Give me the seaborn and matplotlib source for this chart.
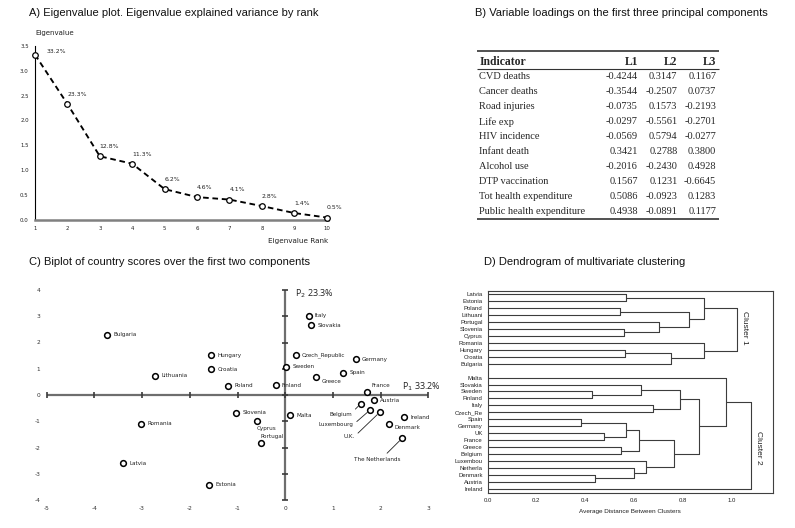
"""
PCA and clustering summary figure: eigenvalues, loadings, biplot, dendrogram.
"""

import pandas as pd
import seaborn as sns
import matplotlib.pyplot as plt


# A) eigenvalue plot
RANKS = [1, 2, 3, 4, 5, 6, 7, 8, 9, 10]
EIGENVALUES = [3.32, 2.33, 1.28, 1.13, 0.62, 0.46, 0.41, 0.28, 0.14, 0.05]
VARIANCE_LABELS = ["33.2%", "23.3%", "12.8%", "11.3%", "6.2%",
                   "4.6%", "4.1%", "2.8%", "1.4%", "0.5%"]

# B) loadings table
INDICATORS = ["CVD deaths", "Cancer deaths", "Road injuries", "Life exp",
              "HIV incidence", "Infant death", "Alcohol use",
              "DTP vaccination", "Tot health expenditure",
              "Public health expenditure"]
L1 = [-0.4244, -0.3544, -0.0735, -0.0297, -0.0569,
      0.3421, -0.2016, 0.1567, 0.5086, 0.4938]
L2 = [0.3147, -0.2507, 0.1573, -0.5561, 0.5794,
      0.2788, -0.2430, 0.1231, -0.0923, -0.0891]
L3 = [0.1167, 0.0737, -0.2193, -0.2701, -0.0277,
      0.3800, 0.4928, -0.6645, 0.1283, 0.1177]

# C) biplot scores
COUNTRIES = ["Bulgaria", "Italy", "Slovakia", "Hungary", "Croatia",
             "Lithuania", "Poland", "Czech_Republic", "Germany", "Sweden",
             "Spain", "Greece", "Finland", "France", "Austria", "Belgium",
             "Luxembourg", "U.K.", "Ireland", "Denmark", "The Netherlands",
             "Slovenia", "Malta", "Cyprus", "Portugal", "Romania", "Latvia",
             "Estonia"]
SCORE_P1 = [-3.74, 0.49, 0.54, -1.55, -1.55, -2.73, -1.20, 0.22, 1.48, 0.02,
            1.21, 0.64, -0.20, 1.71, 1.86, 1.58, 1.78, 1.98, 2.50, 2.17,
            2.45, -1.03, 0.10, -0.59, -0.51, -3.02, -3.40, -1.60]
SCORE_P2 = [2.29, 3.01, 2.65, 1.52, 0.98, 0.74, 0.36, 1.52, 1.36, 1.07,
            0.85, 0.70, 0.38, 0.13, -0.20, -0.34, -0.57, -0.66, -0.85, -1.09,
            -1.65, -0.67, -0.77, -1.00, -1.84, -1.09, -2.60, -3.42]

# D) dendrogram
LEAVES_1 = ["Latvia", "Estonia", "Poland", "Lithuani", "Portugal",
            "Slovenia", "Cyprus", "Romania", "Hungary", "Croatia", "Bulgaria"]
LEAVES_2 = ["Malta", "Slovakia", "Sweden", "Finland", "Italy", "Czech_Re",
            "Spain", "Germany", "UK", "France", "Greece", "Belgium",
            "Luxembou", "Netherla", "Denmark", "Austria", "Ireland"]
# (child, child, height); an int child refers to an earlier merge
MERGES = [
    ("Latvia", "Estonia", 0.566),
    ("Poland", "Lithuani", 0.543),
    ("Slovenia", "Cyprus", 0.560),
    ("Portugal", 2, 0.703),
    (1, 3, 0.825),
    (0, 4, 0.887),
    ("Hungary", "Croatia", 0.563),
    (6, "Bulgaria", 0.749),
    ("Romania", 7, 0.887),
    (5, 8, 1.019),
    ("Sweden", "Finland", 0.429),
    ("Slovakia", 10, 0.628),
    ("Italy", "Czech_Re", 0.678),
    (11, 12, 0.789),
    ("Spain", "Germany", 0.382),
    ("UK", "France", 0.477),
    (14, 15, 0.567),
    ("Greece", "Belgium", 0.545),
    (16, 17, 0.621),
    ("Denmark", "Austria", 0.441),
    ("Netherla", 19, 0.600),
    ("Luxembou", 20, 0.648),
    (18, 21, 0.763),
    (13, 22, 0.866),
    ("Malta", 23, 0.975),
    (24, "Ireland", 1.080),
]
CLUSTER_NAMES = ["Cluster 1", "Cluster 2"]

W, H = 795, 528
SANS = ["Liberation Sans", "DejaVu Sans"]
VERDANA = ["DejaVu Sans"]
SERIF = ["Liberation Serif", "DejaVu Serif"]


def px_rect(left, top, right, bottom):
    """Convert a pixel box to a figure-fraction rect."""
    return [left / W, 1 - bottom / H, (right - left) / W, (bottom - top) / H]


def draw_eigenvalues(fig):
    ax = fig.add_axes(px_rect(35, 45.7, 328.3, 220))
    frame = pd.DataFrame({"rank": RANKS, "eigen": EIGENVALUES})
    sns.lineplot(data=frame, x="rank", y="eigen", ax=ax, color="black",
                 linestyle="--", linewidth=1.35, marker="o", markersize=4,
                 markerfacecolor="white", markeredgecolor="black",
                 markeredgewidth=0.9, clip_on=False, zorder=5)
    ax.lines[-1].set_dashes([3.0, 2.0])
    for i, label in enumerate(VARIANCE_LABELS):
        offset = (8, 2) if i == 0 else (0, 7)
        ax.annotate(label, (RANKS[i], EIGENVALUES[i]), xytext=offset,
                    textcoords="offset points", ha="left", va="center",
                    fontsize=4.4, family=VERDANA, color="#222222")
    ax.set_xlim(1, 10.05)
    ax.set_ylim(0, 3.5)
    ax.set_xticks(RANKS)
    ax.set_yticks([0, 0.5, 1.0, 1.5, 2.0, 2.5, 3.0, 3.5])
    ax.set_yticklabels([f"{v:.1f}" for v in ax.get_yticks()])
    ax.set_xlabel("")
    ax.set_ylabel("")
    for side in ("top", "right"):
        ax.spines[side].set_visible(False)
    ax.spines["left"].set_linewidth(0.8)
    ax.spines["left"].set_color("black")
    ax.spines["bottom"].set_linewidth(1.8)
    ax.spines["bottom"].set_color("#808080")
    ax.tick_params(labelsize=3.9, length=2.5, width=0.6, pad=2,
                   labelcolor="#222222")
    for t in ax.get_xticklabels() + ax.get_yticklabels():
        t.set_family(VERDANA)
    fig.text(35 / W, 1 - 33.3 / H, "Eigenvalue", fontsize=5, family=VERDANA,
             ha="left", va="center", color="#222222")
    fig.text(328 / W, 1 - 240.7 / H, "Eigenvalue Rank", fontsize=5.2,
             family=VERDANA, ha="right", va="center", color="#222222")


def draw_table(fig):
    ax = fig.add_axes(px_rect(477, 51.3, 719, 219.4))
    ax.set_xlim(0, 1)
    ax.set_ylim(10.5, -0.7)
    ax.axis("off")
    header = ["Indicator", "L1", "L2", "L3"]
    col_x = [0.01, 0.665, 0.828, 0.989]
    for j, name in enumerate(header):
        ax.text(col_x[j], 0, name, ha="left" if j == 0 else "right",
                va="center", fontsize=8.4, fontweight="bold", family=SERIF)
    for i, name in enumerate(INDICATORS):
        row = i + 1
        ax.text(col_x[0], row, name, ha="left", va="center", fontsize=7.5,
                family=SERIF)
        for j, values in enumerate((L1, L2, L3)):
            ax.text(col_x[j + 1], row, f"{values[i]:.4f}", ha="right",
                    va="center", fontsize=7.5, family=SERIF)
    ax.hlines([-0.7, 0.5, 10.5], 0, 1, colors="#333333",
              linewidths=[1.2, 0.8, 1.2], clip_on=False)


def draw_biplot(fig):
    ax = fig.add_axes(px_rect(46.7, 290, 428.3, 500))
    ax.axhline(0, color="#6e6e6e", linewidth=1.6, zorder=1)
    ax.axvline(0, color="#6e6e6e", linewidth=1.6, zorder=1)
    xt = list(range(-5, 4))
    yt = list(range(-4, 5))
    ax.plot(xt, [0] * len(xt), linestyle="none", marker="|", markersize=5,
            markeredgewidth=1.2, color="#3a3a3a", zorder=2, clip_on=False)
    ax.plot([0] * len(yt), yt, linestyle="none", marker="_", markersize=5,
            markeredgewidth=1.2, color="#3a3a3a", zorder=2, clip_on=False)
    frame = pd.DataFrame({"p1": SCORE_P1, "p2": SCORE_P2, "name": COUNTRIES})
    sns.scatterplot(data=frame, x="p1", y="p2", ax=ax, marker="o", s=17,
                    facecolor="white", edgecolor="black", linewidth=1.1,
                    zorder=5, clip_on=False)
    special = {
        "Greece": ((4.3, -3.6), "left", None),
        "France": ((3.6, 4.3), "left", None),
        "Cyprus": ((-0.5, -5.0), "left", None),
        "Portugal": ((0, 4.8), "left", None),
        "Denmark": ((4.3, -2.6), "left", None),
        "Belgium": ((-14.3, -7.9), "center", (1.0, 1.0)),
        "Luxembourg": ((-24.5, -10.4), "center", (1.0, 0.5)),
        "U.K.": ((-22, -17.6), "center", (1.0, 0.6)),
        "The Netherlands": ((-18.2, -14.9), "center", (0.65, 1.0)),
    }
    for name, x, y in zip(COUNTRIES, SCORE_P1, SCORE_P2):
        offset, ha, relpos = special.get(name, ((4.5, 0), "left", None))
        arrow = None
        if relpos is not None:
            arrow = dict(arrowstyle="-", color="#222222", lw=0.6,
                         relpos=relpos, shrinkA=0, shrinkB=2.5)
        ax.annotate(name, (x, y), xytext=offset, textcoords="offset points",
                    ha=ha, va="center", fontsize=4.1, family=VERDANA,
                    color="#222222", arrowprops=arrow, zorder=6)
    ax.text(0.205, 3.85, "P$_2$ 23.3%", fontsize=6.5, family=["Open Sans"],
            ha="left", va="center", color="#222222")
    ax.text(2.44, 0.33, "P$_1$ 33.2%", fontsize=6.5, family=["Open Sans"],
            ha="left", va="center", color="#222222")
    ax.set_xlim(-5, 3)
    ax.set_ylim(-4, 4)
    ax.set_xticks(xt)
    ax.set_yticks(yt)
    ax.set_xlabel("")
    ax.set_ylabel("")
    for side in ax.spines.values():
        side.set_visible(False)
    ax.tick_params(length=0, labelsize=4.2, labelcolor="#333333")
    ax.tick_params(axis="y", pad=4.5)
    ax.tick_params(axis="x", pad=4.0)
    for t in ax.get_xticklabels() + ax.get_yticklabels():
        t.set_family(VERDANA)


def draw_dendrogram(fig):
    ax = fig.add_axes(px_rect(487.5, 291, 773, 493))
    leaves = LEAVES_1 + LEAVES_2
    positions = list(range(len(LEAVES_1))) + \
        list(range(len(LEAVES_1) + 1, len(leaves) + 1))
    leaf_pos = dict(zip(leaves, positions))
    nodes = []
    color = "#3c3c3c"

    def locate(child):
        if isinstance(child, str):
            return 0.0, leaf_pos[child]
        return nodes[child]

    for a, b, h in MERGES:
        xa, ya = locate(a)
        xb, yb = locate(b)
        ax.plot([xa, h], [ya, ya], color=color, linewidth=0.8)
        ax.plot([xb, h], [yb, yb], color=color, linewidth=0.8)
        ax.plot([h, h], [ya, yb], color=color, linewidth=0.8)
        nodes.append((h, (ya + yb) / 2))

    ax.text(1.053, 4.9, CLUSTER_NAMES[0], rotation=270, ha="center",
            va="center", fontsize=6, family=SANS, color="#222222")
    ax.text(1.11, 22.1, CLUSTER_NAMES[1], rotation=270, ha="center",
            va="center", fontsize=6, family=SANS, color="#222222")
    ax.set_xlim(0, 1.168)
    ax.set_ylim(28.6, -0.45)
    ax.set_yticks(positions)
    ax.set_yticklabels(leaves)
    ax.set_xticks([0, 0.2, 0.4, 0.6, 0.8, 1.0])
    ax.set_xticklabels(["0.0", "0.2", "0.4", "0.6", "0.8", "1.0"])
    ax.set_xlabel("Average Distance Between Clusters", fontsize=4.6,
                  family=SANS, color="#222222", labelpad=4.5)
    for side in ax.spines.values():
        side.set_visible(True)
        side.set_linewidth(0.8)
        side.set_color("#404040")
    ax.tick_params(length=2, width=0.6, labelsize=4.3, pad=1.5,
                   labelcolor="#222222")
    for t in ax.get_xticklabels() + ax.get_yticklabels():
        t.set_family(SANS)


def main() -> None:
    sns.set_style("white")
    plt.rcParams["font.family"] = SANS
    plt.rcParams["axes.unicode_minus"] = False
    fig = plt.figure(figsize=(W / 100, H / 100), dpi=100)

    draw_eigenvalues(fig)
    draw_table(fig)
    draw_biplot(fig)
    draw_dendrogram(fig)

    titles = [
        (29.3, 13.3, "A) Eigenvalue plot. Eigenvalue explained variance by rank"),
        (475, 12.5, "B) Variable loadings on the first three principal components"),
        (29.3, 262, "C) Biplot of country scores over the first two components"),
        (484, 262, "D) Dendrogram of multivariate clustering"),
    ]
    for x, y, text in titles:
        fig.text(x / W, 1 - y / H, text, ha="left", va="center", fontsize=8,
                 family=SANS, color="#111111")

    fig.savefig("out.png", dpi=100)


if __name__ == "__main__":
    main()
